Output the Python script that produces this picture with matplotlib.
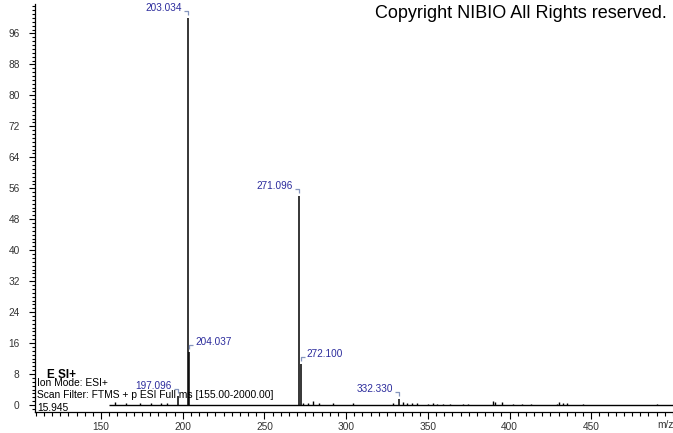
import matplotlib
matplotlib.use("Agg")
import matplotlib.pyplot as plt
from matplotlib.ticker import MultipleLocator

plt.rcParams['font.family'] = ['Liberation Sans', 'DejaVu Sans']

# ---- data ----
labeled_mz = [197.096, 203.034, 204.037, 271.096, 272.100, 332.330]
labeled_int = [2.3, 100.0, 13.6, 54.1, 10.5, 1.6]
labeled_side = ['left', 'left', 'right', 'left', 'right', 'left']

minor_mz = [158.6, 165.3, 173.9, 180.6, 186.7, 190.4, 273.6, 276.7, 279.7, 283.4,
            292.0, 304.2, 328.7, 334.7, 337.3, 340.3, 343.4, 350.1, 353.2, 355.6,
            359.3, 363.6, 371.5, 374.6, 389.9, 391.1, 395.4, 402.1, 407.6, 413.2,
            429.1, 430.3, 432.7, 435.2, 445.0, 490.3]
minor_int = [0.9, 0.5, 0.6, 0.5, 0.4, 0.5, 0.5, 0.6, 1.0, 0.5,
             0.4, 0.4, 0.4, 0.7, 0.5, 0.4, 0.4, 0.3, 0.4, 0.3,
             0.3, 0.3, 0.3, 0.3, 1.1, 0.9, 0.7, 0.3, 0.3, 0.3,
             0.3, 0.9, 0.4, 0.4, 0.3, 0.3]

scan_range = [155.0, 500.0]
x_ticks = [150, 200, 250, 300, 350, 400, 450]
y_ticks = [0, 8, 16, 24, 32, 40, 48, 56, 64, 72, 80, 88, 96]
xlim = (109.6, 500.0)
ylim = (-1.8, 103.6)

info_lines = ["Ion Mode: ESI+", "Scan Filter: FTMS + p ESI Full ms [155.00-2000.00]", "15.945"]

# ---- figure ----
W, H = 673, 433
fig = plt.figure(figsize=(W / 100, H / 100), dpi=100)
left, right, bottom, top = 35 / W, 1.0, (H - 412) / H, (H - 4) / H
ax = fig.add_axes([left, bottom, right - left, top - bottom])
ax.set_xlim(*xlim)
ax.set_ylim(*ylim)

ax_w_px = W * (right - left)
ax_h_px = H * (top - bottom)
dxp = (xlim[1] - xlim[0]) / ax_w_px
dyp = (ylim[1] - ylim[0]) / ax_h_px

# baseline
ax.hlines(0, scan_range[0], scan_range[1], color='black', lw=1.0)
# peaks
ax.vlines(minor_mz, 0, minor_int, color='black', lw=1.0)
ax.vlines(labeled_mz, 0, labeled_int, color='black', lw=1.1)

label_color = '#2b2b9c'
bracket_color = '#8595bd'
for mz, it, side in zip(labeled_mz, labeled_int, labeled_side):
    y0 = it + 3 * dyp
    y1 = it + 7 * dyp
    sgn = -1 if side == 'left' else 1
    ax.plot([mz, mz, mz + sgn * 4 * dxp], [y0, y1, y1], color=bracket_color, lw=0.9,
            solid_capstyle='butt', clip_on=False)
    ax.text(mz + sgn * 6 * dxp, it + 10 * dyp, f"{mz:.3f}",
            ha='right' if side == 'left' else 'left', va='center',
            fontsize=7.2, color=label_color)

# axes styling
for s in ['top', 'right']:
    ax.spines[s].set_visible(False)
ax.spines['left'].set_linewidth(0.9)
ax.spines['bottom'].set_linewidth(0.9)
ax.set_xticks(x_ticks)
ax.set_yticks(y_ticks)
ax.xaxis.set_minor_locator(MultipleLocator(5))
ax.yaxis.set_minor_locator(MultipleLocator(1))
ax.tick_params(axis='x', which='major', length=5, width=0.8, pad=2, labelsize=7.3, labelcolor='#333333')
ax.tick_params(axis='x', which='minor', length=3, width=0.8)
ax.tick_params(axis='y', which='major', length=4, width=0.8, pad=7, labelsize=7.3, labelcolor='#333333')
ax.tick_params(axis='y', which='minor', length=2, width=0.8)

fig.text(665 / W, 1 - 425 / H, "m/z", ha='center', va='center', fontsize=7.3, color='#333333')

fig.text(1 - 6 / W, 1 - 14 / H, "Copyright NIBIO All Rights reserved.", ha='right', va='center',
         fontsize=13, color='black')

fig.text(47 / W, 1 - 375 / H, "E SI+", ha='left', va='center', fontsize=8.5, fontweight='bold', color='black')
for i, line in enumerate(info_lines):
    fig.text(37 / W, 1 - (383 + 12.5 * i) / H, line, ha='left', va='center', fontsize=7.4, color='black')

fig.savefig("out.png", dpi=100)
